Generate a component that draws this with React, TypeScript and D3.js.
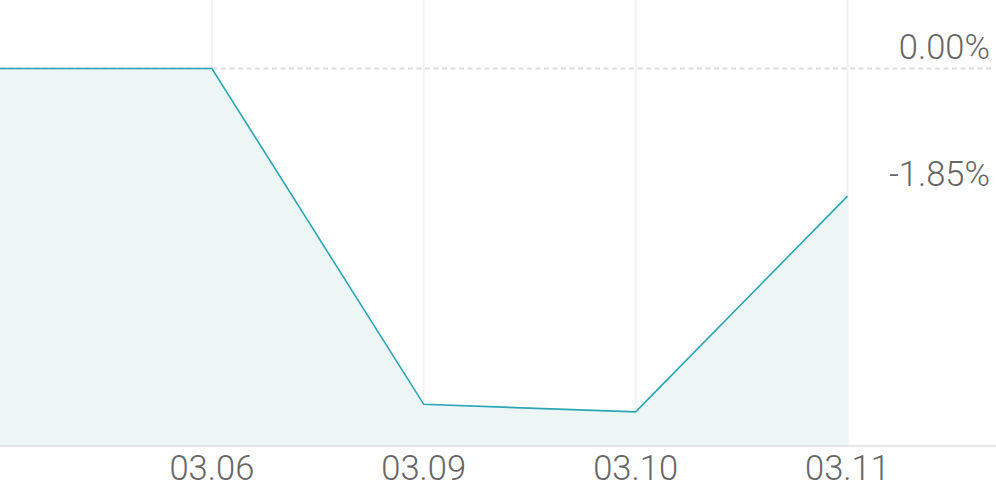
import React from "react";
import * as d3 from "d3";

const categories = ["03.05", "03.06", "03.09", "03.10", "03.11"];
const values = [0, 0, -4.87, -4.98, -1.85];
const xTickLabels = ["03.06", "03.09", "03.10", "03.11"];
const yTickValues = [0, -1.85];

const W = 996;
const H = 490;

export default function App() {
  const x = d3.scalePoint<string>().domain(categories).range([0, 847.5]);
  const y = d3.scaleLinear().domain([-5.46, 0.994]).range([445, 0]);
  const pts = categories.map((c, i) => ({ c, v: values[i] }));
  const line = d3
    .line<{ c: string; v: number }>()
    .x((d) => x(d.c) as number)
    .y((d) => y(d.v));
  const area = d3
    .area<{ c: string; v: number }>()
    .x((d) => x(d.c) as number)
    .y0(y(-5.46))
    .y1((d) => y(d.v));
  const fmt = (v: number) => `${v.toFixed(2)}%`;
  const font = "Roboto, 'Noto Sans', sans-serif";

  return (
    <svg
      width={W}
      height={H}
      style={{ position: "absolute", left: 0, top: 0, background: "#fff" }}
    >
      {xTickLabels.map((t) => (
        <line
          key={"g" + t}
          x1={x(t)}
          x2={x(t)}
          y1={0}
          y2={445}
          stroke="#f2f2f2"
          strokeWidth={2}
        />
      ))}
      <path d={area(pts) || ""} fill="#ecf6f5" />
      {yTickValues.map((v) => (
        <line
          key={"h" + v}
          x1={0}
          x2={992}
          y1={y(v)}
          y2={y(v)}
          stroke="#dedede"
          strokeWidth={2}
          strokeDasharray={v === 0 ? "5,3.5" : "0,10000"}
        />
      ))}
      <path d={line(pts) || ""} fill="none" stroke="#2ba5b5" strokeWidth={1.6} />
      <line x1={0} x2={W} y1={446} y2={446} stroke="#e6e6e6" strokeWidth={2} />
      {yTickValues.map((v) => (
        <text
          key={"yl" + v}
          x={990}
          y={y(v) - 10}
          textAnchor="end"
          fontFamily={font}
          fontWeight={300}
          fontSize={34.5}
          fill="#666"
        >
          {fmt(v)}
        </text>
      ))}
      {xTickLabels.map((t) => (
        <text
          key={"xl" + t}
          x={x(t)}
          y={479.5}
          textAnchor="middle"
          fontFamily={font}
          fontWeight={300}
          fontSize={34.5}
          fill="#666"
        >
          {t}
        </text>
      ))}
    </svg>
  );
}
